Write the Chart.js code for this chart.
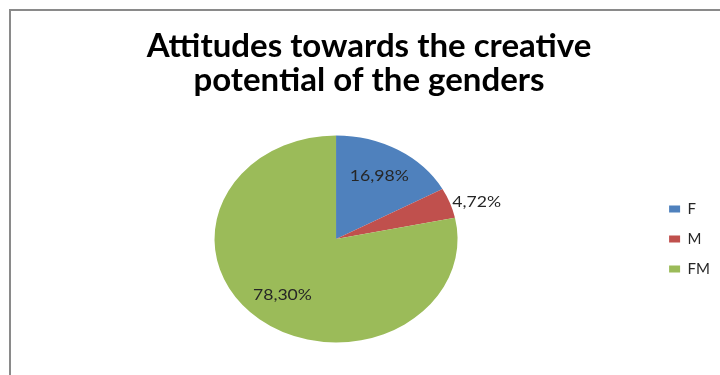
<!DOCTYPE html>
<html>
<head>
<meta charset="utf-8">
<script src="https://cdn.jsdelivr.net/npm/chart.js@4/dist/chart.umd.min.js"></script>
<style>
  html, body { margin: 0; padding: 0; background: #ffffff; }
  #wrap { width: 720px; height: 375px; }
</style>
</head>
<body>
<div id="wrap"><canvas id="c" width="720" height="375"></canvas></div>
<script>
// ---- data ----
const categories = ['F', 'M', 'FM'];
const shares = [16.98, 4.72, 78.30];
const sliceColors = ['#4F81BD', '#C0504D', '#9BBB59'];
const titleLines = ['Attitudes towards the creative', 'potential of the genders'];

// horizontal stretch of the pie (reference pie is an ellipse)
const PIE_STRETCH = 1.174;

const frame = {
  id: 'frame',
  beforeDraw(chart) {
    const ctx = chart.ctx;
    ctx.save();
    ctx.fillStyle = '#8a8a8a';
    ctx.fillRect(9, 9, chart.width - 9, 2);
    ctx.fillRect(9, 9, 2, chart.height - 9);
    ctx.restore();
  }
};

function pieCenter(chart) {
  const arc = chart.getDatasetMeta(0).data[0];
  return { x: arc.x, y: arc.y, r: arc.outerRadius };
}

function applyStretch(ctx, c) {
  ctx.translate(c.x, c.y);
  ctx.scale(PIE_STRETCH, 1);
  ctx.translate(-c.x, -c.y);
}

const stretchPie = {
  id: 'stretchPie',
  beforeDatasetsDraw(chart) {
    const ctx = chart.ctx;
    ctx.save();
    applyStretch(ctx, pieCenter(chart));
  },
  afterDatasetsDraw(chart) {
    const ctx = chart.ctx;
    ctx.restore();
    // value labels
    const c = pieCenter(chart);
    const meta = chart.getDatasetMeta(0);
    const data = chart.data.datasets[0].data;
    ctx.save();
    applyStretch(ctx, c);
    ctx.font = '15px Lato';
    ctx.fillStyle = '#262626';
    ctx.textBaseline = 'middle';
    meta.data.forEach((arc, i) => {
      const mid = (arc.startAngle + arc.endAngle) / 2;
      const v = data[i];
      const txt = v.toFixed(2).replace('.', ',') + '%';
      let rr;
      if (v < 10) { rr = c.r * 1.02; ctx.textAlign = 'left'; }
      else { rr = c.r * 0.7; ctx.textAlign = 'center'; }
      ctx.fillText(txt, c.x + Math.cos(mid) * rr, c.y + Math.sin(mid) * rr);
    });
    ctx.restore();
  }
};

new Chart(document.getElementById('c'), {
  type: 'pie',
  data: {
    labels: categories,
    datasets: [{
      data: shares,
      backgroundColor: sliceColors,
      borderWidth: 0,
      hoverOffset: 0,
      offset: 0
    }]
  },
  options: {
    responsive: false,
    devicePixelRatio: 1,
    animation: false,
    layout: { padding: { left: 18, right: 0, top: 0, bottom: 32.5 } },
    plugins: {
      title: {
        display: true,
        text: titleLines,
        color: '#000000',
        font: { family: 'Lato', size: 33, weight: 'bold', lineHeight: 1.03 },
        padding: { top: 29.5, bottom: 38 }
      },
      legend: {
        position: 'right',
        fullSize: false,
        labels: {
          boxWidth: 11,
          boxHeight: 7,
          padding: 15,
          color: '#262626',
          font: { family: 'Lato', size: 15 }
        }
      },
      tooltip: { enabled: false }
    }
  },
  plugins: [frame, stretchPie]
});
</script>
</body>
</html>
